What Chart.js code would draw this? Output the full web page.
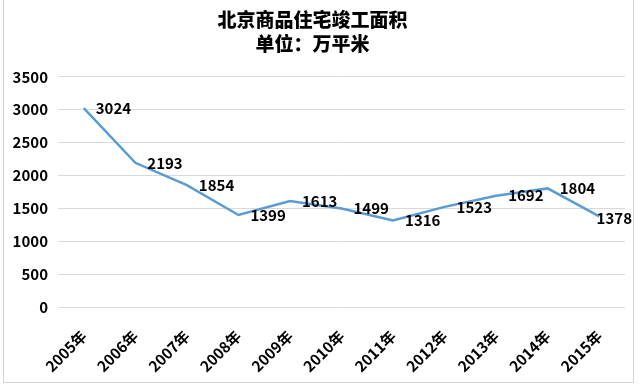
<!DOCTYPE html>
<html>
<head>
<meta charset="utf-8">
<script src="https://cdn.jsdelivr.net/npm/chart.js@4/dist/chart.umd.min.js"></script>
<style>
  html, body { margin: 0; padding: 0; background: #fff; }
  #wrap { position: relative; width: 640px; height: 387px; }
  #frame { position: absolute; left: 3px; top: -1px; width: 629px; height: 382px; border: 1px solid #d4d4d4; pointer-events: none; }
</style>
</head>
<body>
<div id="wrap">
  <canvas id="areaChart" width="640" height="387"></canvas>
  <div id="frame"></div>
</div>
<script>
// 北京商品住宅竣工面积（万平米）
const years = ['2005年', '2006年', '2007年', '2008年', '2009年', '2010年', '2011年', '2012年', '2013年', '2014年', '2015年'];
const areaValues = [3024, 2193, 1854, 1399, 1613, 1499, 1316, 1523, 1692, 1804, 1378];
const titleLines = ['北京商品住宅竣工面积', '单位：万平米'];

const FONT = '"Noto Sans CJK SC", "Noto Sans", sans-serif';

// 数値ラベル：点の右側に描く（右端ははみ出さないよう寄せる）
const valueLabels = {
    id: 'valueLabels',
    afterDatasetsDraw(chart) {
        const ctx = chart.ctx;
        const meta = chart.getDatasetMeta(0);
        ctx.save();
        ctx.font = 'bold 15px ' + FONT;
        ctx.fillStyle = '#000';
        ctx.textAlign = 'left';
        ctx.textBaseline = 'middle';
        meta.data.forEach((pt, i) => {
            const txt = String(areaValues[i]);
            const w = ctx.measureText(txt).width;
            let x = pt.x + 12;
            let y = pt.y;
            if (x + w > chart.width - 8) { x = chart.width - 8 - w; y = pt.y + 2; }
            ctx.fillText(txt, x, y);
        });
        ctx.restore();
    }
};

new Chart(document.getElementById('areaChart'), {
    type: 'line',
    data: {
        labels: years,
        datasets: [{
            data: areaValues,
            borderColor: '#5b9bd5',
            borderWidth: 2.5,
            pointRadius: 0,
            tension: 0,
            fill: false
        }]
    },
    options: {
        responsive: false,
        animation: false,
        layout: { padding: { left: 0, right: 15, top: 0, bottom: 0 } },
        plugins: {
            legend: { display: false },
            tooltip: { enabled: false },
            title: {
                display: true,
                text: titleLines,
                color: '#000',
                font: { family: FONT, size: 19, weight: '900', lineHeight: 1.26 },
                padding: { top: 8, bottom: 21 }
            }
        },
        scales: {
            x: {
                offset: true,
                grid: { display: false, drawTicks: false },
                border: { display: false },
                ticks: {
                    color: '#000',
                    font: { family: FONT, size: 15, weight: 'bold' },
                    minRotation: 45,
                    maxRotation: 45,
                    padding: 20
                },
                afterFit(scale) { scale.height = 80; }
            },
            y: {
                min: 0,
                max: 3500,
                grid: { color: '#d9d9d9', drawTicks: false, lineWidth: 1 },
                border: { display: false },
                ticks: {
                    stepSize: 500,
                    color: '#000',
                    font: { family: FONT, size: 15, weight: 'bold' },
                    padding: 10,
                    callback: (v) => String(v)
                },
                afterFit(scale) { scale.width = 58; }
            }
        }
    },
    plugins: [valueLabels]
});
</script>
</body>
</html>
